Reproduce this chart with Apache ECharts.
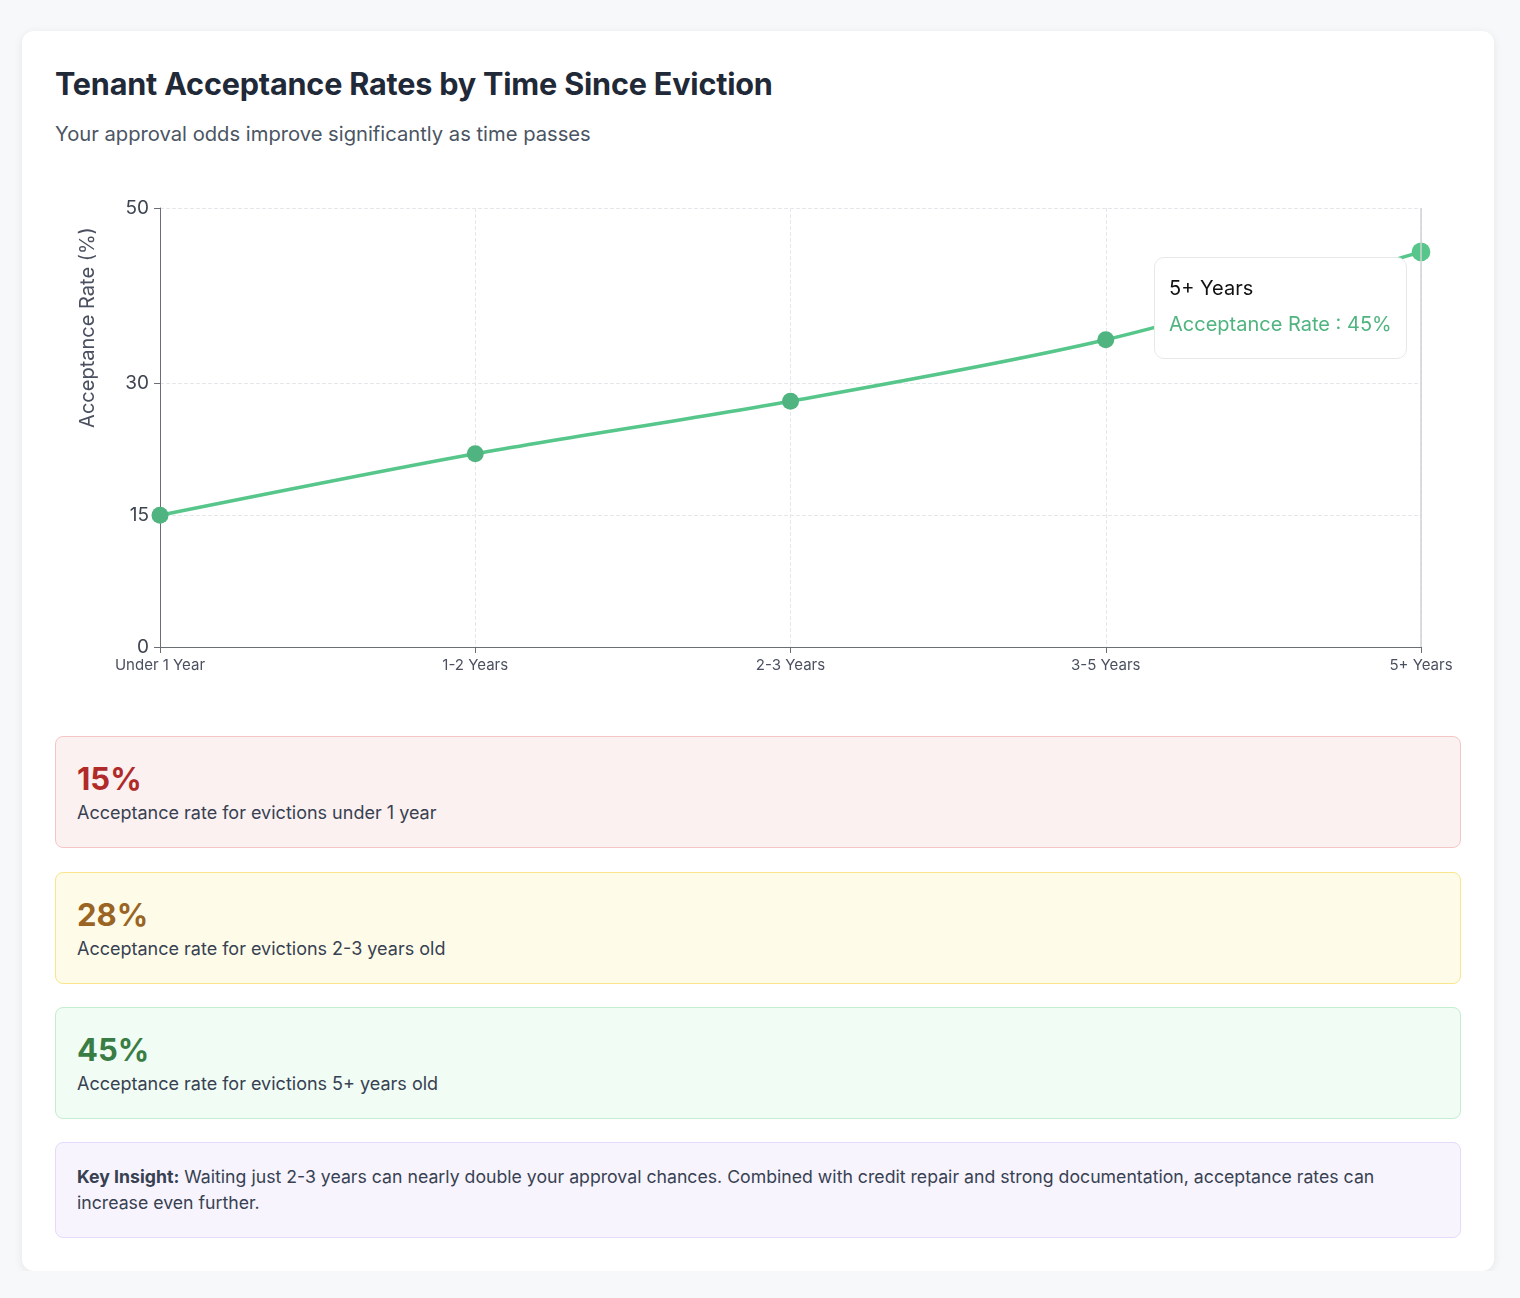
<!DOCTYPE html>
<html>
<head>
<meta charset="utf-8">
<script src="https://cdn.jsdelivr.net/npm/echarts@6/dist/echarts.min.js"></script>
<style>
  body { margin: 0; background: #f7f8fa; font-family: Inter, "Noto Sans", sans-serif; }
  .card {
    margin: 31px 0 0 22px; width: 1472px; box-sizing: border-box; padding: 33px;
    background: #fff; border-radius: 12px; box-shadow: 0 2px 10px rgba(0,0,0,0.08);
  }
  h1 { margin: 0; font-size: 30.6px; line-height: 40px; font-weight: 700; color: #1f2937; letter-spacing: -0.2px; }
  .sub { margin-top: 16px; font-size: 20.2px; line-height: 28px; color: #4b5563; }
  #chart-one { margin-top: 20px; width: 1406px; height: 530px; }
  .stat { box-sizing: border-box; border: 1px solid; border-radius: 8px; padding: 24px 21px 22px; }
  .stat .num { font-size: 31px; line-height: 36px; font-weight: 700; }
  .stat .txt { margin-top: 4px; font-size: 18px; line-height: 24px; color: #374151; }
  .red { margin-top: 38px; background: #fcf1f1; border-color: #f5c6c6; }
  .red .num { color: #b02a2a; }
  .yellow { margin-top: 24px; background: #fefce9; border-color: #f8e58c; }
  .yellow .num { color: #9a6424; }
  .green { margin-top: 23px; background: #f0fcf4; border-color: #c3efd0; }
  .green .num { color: #3a7d44; }
  .insight { margin-top: 23px; box-sizing: border-box; border: 1px solid #e6dafa; border-radius: 8px;
    background: #f7f4fe; padding: 21px 21px 21px; font-size: 17.7px; line-height: 26px; color: #374151; }
</style>
</head>
<body>
<div class="card">
  <h1>Tenant Acceptance Rates by Time Since Eviction</h1>
  <div class="sub">Your approval odds improve significantly as time passes</div>
  <div id="chart-one"></div>
  <div class="stat red"><div class="num">15%</div><div class="txt">Acceptance rate for evictions under 1 year</div></div>
  <div class="stat yellow"><div class="num">28%</div><div class="txt">Acceptance rate for evictions 2-3 years old</div></div>
  <div class="stat green"><div class="num">45%</div><div class="txt">Acceptance rate for evictions 5+ years old</div></div>
  <div class="insight"><b>Key Insight:</b> Waiting just 2-3 years can nearly double your approval chances. Combined with credit repair and strong documentation, acceptance rates can increase even further.</div>
</div>
<script>
const categories = ['Under 1 Year', '1-2 Years', '2-3 Years', '3-5 Years', '5+ Years'];
const acceptanceRate = [15, 22, 28, 35, 45];
const yTicks = [0, 15, 30, 50];

const lineColor = '#4fb47f';
const gridColor = '#e5e7eb';

var myChart = echarts.init(document.getElementById('chart-one'));
myChart.setOption({
    animation: false,
    grid: { left: 105, right: 40, top: 40, bottom: 51 },
    tooltip: {
        trigger: 'axis',
        alwaysShowContent: true,
        transitionDuration: 0,
        backgroundColor: '#fff',
        borderColor: '#e8e8e8',
        borderWidth: 1,
        padding: [12, 14, 16, 14],
        extraCssText: 'border-radius:10px;box-shadow:none;',
        position: function () { return [1099, 89]; },
        axisPointer: { type: 'line', lineStyle: { color: '#cfd2d6', width: 1.5, type: 'solid' } },
        formatter: function (params) {
            const p = params[0];
            return '<div style="font-family:Inter;font-size:20px;line-height:36px;color:#111">' + p.name + '</div>' +
                '<div style="font-family:Inter;font-size:20px;line-height:36px;color:' + lineColor + '">Acceptance Rate : ' + p.value + '%</div>';
        }
    },
    xAxis: {
        type: 'category',
        data: categories,
        boundaryGap: false,
        axisLine: { lineStyle: { color: '#6b6e75' } },
        axisTick: { show: true, length: 6, lineStyle: { color: '#6b6e75' } },
        axisLabel: { fontFamily: 'Inter', fontSize: 15, color: '#4b5060', margin: 11 },
        splitLine: { show: true, lineStyle: { color: gridColor, type: 'dashed' } }
    },
    yAxis: {
        type: 'value',
        min: 0,
        max: 50,
        name: 'Acceptance Rate (%)',
        nameLocation: 'middle',
        nameGap: 62,
        nameTextStyle: { fontFamily: 'Inter', fontSize: 20, color: '#4b5060', padding: [0, 0, 0, 200] },
        axisLine: { show: true, lineStyle: { color: '#6b6e75' } },
        axisTick: { show: true, length: 6, customValues: yTicks, lineStyle: { color: '#6b6e75' } },
        axisLabel: { fontFamily: 'Inter', fontSize: 19, color: '#3f4451', margin: 11, customValues: yTicks },
        splitLine: { show: true, customValues: yTicks, lineStyle: { color: gridColor, type: 'dashed' } }
    },
    series: [{
        name: 'Acceptance Rate',
        type: 'line',
        data: acceptanceRate,
        smooth: 0.3,
        symbol: 'circle',
        symbolSize: 17,
        itemStyle: { color: lineColor },
        lineStyle: { color: lineColor, width: 3.5 }
    }]
});
myChart.dispatchAction({ type: 'showTip', seriesIndex: 0, dataIndex: 4 });
</script>
</body>
</html>
